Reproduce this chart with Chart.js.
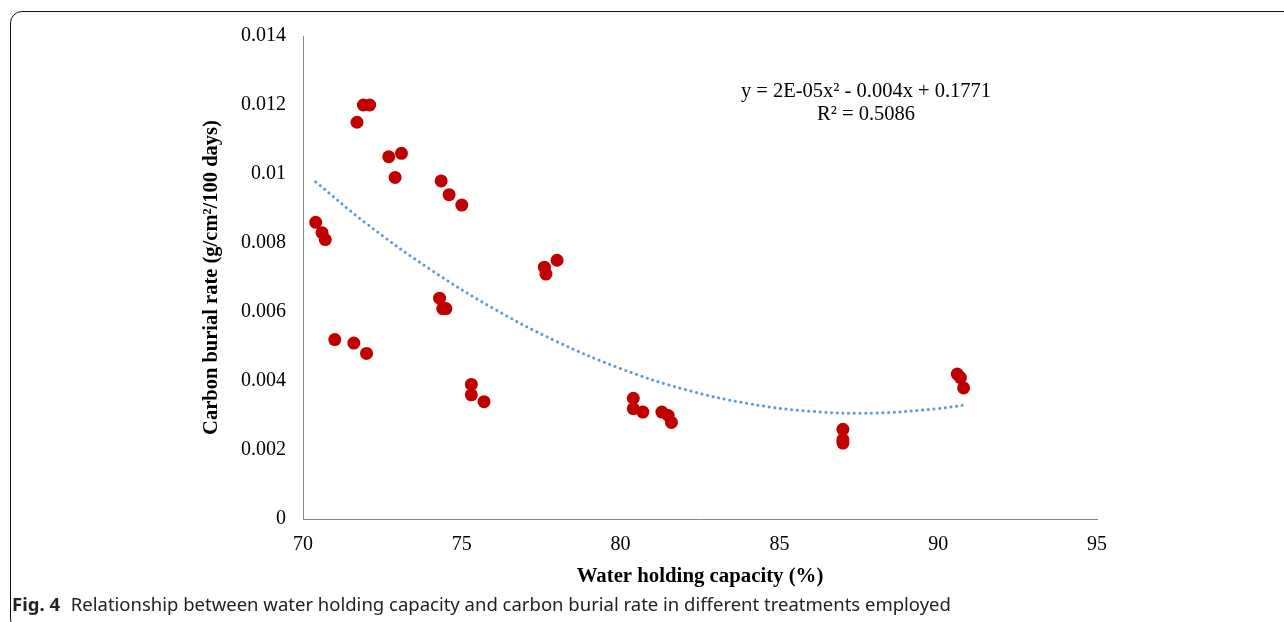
<!DOCTYPE html>
<html>
<head>
<meta charset="utf-8">
<script src="https://cdn.jsdelivr.net/npm/chart.js@4.4.1/dist/chart.umd.min.js"></script>
<style>
  html, body { margin: 0; padding: 0; background: #fff; }
  #wrap { position: relative; width: 1284px; height: 622px; overflow: hidden; }
  #frame { position: absolute; left: 10px; top: 11px; width: 1300px; height: 620px;
           border: 1.3px solid #111; border-radius: 12px; box-sizing: border-box; }
  #myChart { position: absolute; left: 0; top: 0; }
  #caption { position: absolute; left: 12px; top: 591px; font-family: "Noto Sans", sans-serif;
             font-size: 18.5px; color: #222; white-space: nowrap; }
  #caption b { margin-right: 6px; }
</style>
</head>
<body>
<div id="wrap">
  <div id="frame"></div>
  <canvas id="myChart" width="1284" height="622"></canvas>
  <div id="caption"><b>Fig. 4</b> Relationship between water holding capacity and carbon burial rate in different treatments employed</div>
</div>
<script>
// water holding capacity (%)
const whc = [70.4, 70.6, 70.7, 71.0, 71.6, 72.0, 71.7, 71.9, 72.1, 72.7, 73.1, 72.9,
             74.35, 74.6, 75.0, 74.3, 74.4, 74.5, 75.3, 75.3, 75.7,
             77.6, 77.65, 78.0, 80.4, 80.4, 80.7, 81.3, 81.5, 81.6,
             87.0, 87.0, 87.0, 90.6, 90.7, 90.8];
// carbon burial rate (g/cm2/100 days)
const burial = [0.0086, 0.0083, 0.0081, 0.0052, 0.0051, 0.0048, 0.0115, 0.0120, 0.0120, 0.0105, 0.0106, 0.0099,
                0.0098, 0.0094, 0.0091, 0.0064, 0.0061, 0.0061, 0.0039, 0.0036, 0.0034,
                0.0073, 0.0071, 0.0075, 0.0035, 0.0032, 0.0031, 0.0031, 0.0030, 0.0028,
                0.0026, 0.0023, 0.0022, 0.0042, 0.0041, 0.0038];
// trendline
const trendX = [70.4, 72, 74, 76, 78, 80, 82, 84, 86, 88, 90, 90.8];
const trendY = [0.00977, 0.00856, 0.00724, 0.00610, 0.00514, 0.00436, 0.00376, 0.00335, 0.00312, 0.00307, 0.00320, 0.00330];
const yTicks = [0, 0.002, 0.004, 0.006, 0.008, 0.01, 0.012, 0.014];
const eqText = ["y = 2E-05x\u00b2 - 0.004x + 0.1771", "R\u00b2 = 0.5086"];

const serif = "'Liberation Serif', 'Times New Roman', serif";

const eqPlugin = {
    id: 'eq',
    afterDraw(chart) {
        const ctx = chart.ctx;
        ctx.save();
        ctx.font = "20.5px " + serif;
        ctx.fillStyle = "#000";
        ctx.textAlign = "center";
        ctx.textBaseline = "middle";
        ctx.fillText(eqText[0], 866, 92);
        ctx.fillText(eqText[1], 866, 115);
        ctx.restore();
    }
};

const config = {
    type: 'scatter',
    data: {
        datasets: [
            {
                data: whc.map((x, i) => ({x: x, y: burial[i]})),
                backgroundColor: "#C00000",
                borderColor: "#C00000",
                pointRadius: 6.5,
                borderWidth: 0,
                order: 1
            },
            {
                type: 'line',
                data: trendX.map((x, i) => ({x: x, y: trendY[i]})),
                borderColor: "#5B9BD5",
                borderWidth: 3,
                borderDash: [0.1, 5.6],
                borderCapStyle: 'round',
                pointRadius: 0,
                tension: 0.4,
                fill: false,
                order: 2
            }
        ]
    },
    options: {
        responsive: false,
        animation: false,
        layout: { padding: { left: 199, right: 187, top: 36, bottom: 33 } },
        plugins: { legend: { display: false }, tooltip: { enabled: false } },
        scales: {
            x: {
                type: 'linear', min: 70, max: 95,
                afterFit: (s) => { s.height = 70; },
                grid: { display: false, drawTicks: false, tickLength: 0 },
                border: { display: true, color: "#868686", width: 1 },
                ticks: { stepSize: 5, padding: 14, color: "#000", font: { family: serif, size: 20 } },
                title: { display: true, text: "Water holding capacity (%)", color: "#000",
                         padding: { top: 5, bottom: 0 }, font: { family: serif, size: 20.8, weight: 'bold' } }
            },
            y: {
                type: 'linear', min: 0, max: 0.014,
                afterFit: (s) => { s.width = 104; },
                afterBuildTicks: (s) => { s.ticks = yTicks.map(v => ({value: v})); },
                grid: { display: false, drawTicks: false, tickLength: 0 },
                border: { display: true, color: "#868686", width: 1 },
                ticks: { padding: 17, color: "#000", font: { family: serif, size: 20 },
                         callback: (v) => String(Number(v.toFixed(3))) },
                title: { display: true, text: "Carbon burial rate (g/cm\u00b2/100 days)", color: "#000",
                         padding: 0, font: { family: serif, size: 20.5, weight: 'bold' } }
            }
        }
    },
    plugins: [eqPlugin]
};

const myChart = new Chart(document.getElementById('myChart'), config);
</script>
</body>
</html>
